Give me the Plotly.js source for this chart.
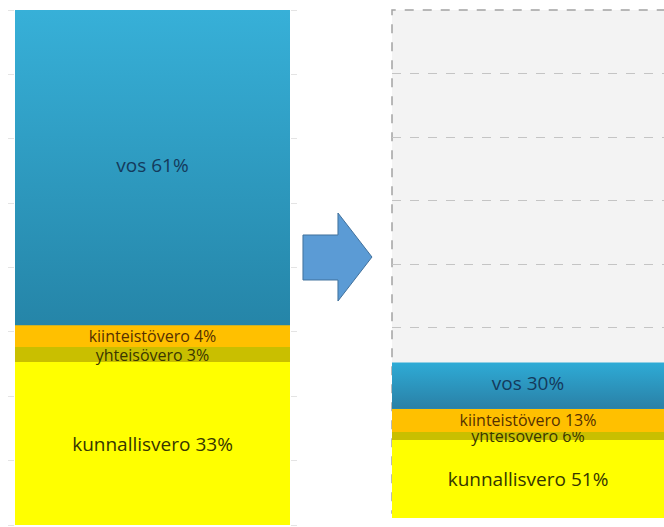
<!DOCTYPE html>
<html>
<head>
<meta charset="utf-8">
<script src="https://cdn.plot.ly/plotly-3.0.1.min.js"></script>
<style>
  html, body { margin: 0; padding: 0; background: #ffffff; }
  #chart { width: 664px; height: 527px; }
</style>
</head>
<body>
<div id="chart"></div>
<script>
// ---- Data ----
// Stacking order, bottom to top
const seriesNames = ['kunnallisvero', 'yhteisövero', 'kiinteistövero', 'vos'];
// Before: shares of the original total (bar fills the whole height)
const beforeValues = [31.6, 2.9, 4.3, 61.2];
const beforeLabels = ['kunnallisvero 33%', 'yhteisövero 3%', 'kiinteistövero 4%', 'vos 61%'];
// After: heights relative to the former total (dashed box = 100)
const afterValues = [15.4, 1.5, 4.6, 9.1];
const afterLabels = ['kunnallisvero 51%', 'yhteisövero 6%', 'kiinteistövero 13%', 'vos 30%'];
const formerTotal = 100;
const gridStep = 12.5;

// ---- Styles ----
const segColors = ['#ffff00', '#c9bf00', '#ffc000', '#2d9bc4'];
const textColors = ['#363600', '#3a3600', '#553000', '#143a5c'];
const textSizes = [19, 16, 16, 19];
const fontFamily = '"Open Sans", Lato, sans-serif';
const blueGrad = {
  before: [[0, '#2585a8'], [1, '#37b0d8']],
  after:  [[0, '#2a80a6'], [1, '#2eabd6']]
};

const W = 664, H = 527;
const px = v => v / W;
const py = v => 1 - v / H;

function sum(a) { return a.reduce((s, v) => s + v, 0); }

const traces = [];
function addPanel(values, labels, xa, ya, grad) {
  let base = 0;
  values.forEach((v, i) => {
    const isVos = (i === values.length - 1);
    traces.push({
      type: 'bar', x: [0], y: [v], xaxis: xa, yaxis: ya,
      name: seriesNames[i],
      marker: { color: segColors[i], line: { width: 0 } },
      text: isVos ? [''] : [labels[i]],
      textposition: 'inside', insidetextanchor: 'middle',
      constraintext: 'none', textangle: 0,
      textfont: { family: fontFamily, size: textSizes[i], color: textColors[i] },
      width: 1, hoverinfo: 'skip'
    });
    if (isVos) {
      const y0 = base, y1 = base + v;
      traces.push({
        type: 'scatter', mode: 'lines', xaxis: xa, yaxis: ya,
        x: [-0.5, 0.5, 0.5, -0.5, -0.5],
        y: [y0, y0, y1, y1, y0],
        fill: 'toself', line: { width: 0 },
        fillgradient: { type: 'vertical', start: y0, stop: y1, colorscale: grad },
        hoverinfo: 'skip'
      });
      traces.push({
        type: 'scatter', mode: 'text', xaxis: xa, yaxis: ya,
        x: [0], y: [(y0 + y1) / 2], text: [labels[i]],
        textposition: 'middle center',
        textfont: { family: fontFamily, size: textSizes[i], color: textColors[i] },
        hoverinfo: 'skip'
      });
    }
    base += v;
  });
}
addPanel(beforeValues, beforeLabels, 'x', 'y', blueGrad.before);
addPanel(afterValues, afterLabels, 'x2', 'y2', blueGrad.after);

const arrowPts = [[303, 235], [338, 235], [338, 213], [372, 257], [338, 301], [338, 280], [303, 280]];
const arrowPath = 'M ' + arrowPts.map(p => px(p[0]).toFixed(4) + ',' + py(p[1]).toFixed(4)).join(' L ') + ' Z';

const layout = {
  width: W, height: H,
  margin: { l: 0, r: 0, t: 0, b: 0, pad: 0 },
  paper_bgcolor: '#ffffff',
  plot_bgcolor: '#f3f3f3',
  showlegend: false,
  barmode: 'stack', bargap: 0,
  xaxis: { domain: [px(15), px(290)], range: [-0.5, 0.5], visible: false, fixedrange: true },
  yaxis: {
    domain: [py(525), py(10)], range: [0, sum(beforeValues)],
    side: 'right', showticklabels: false, showgrid: false, zeroline: false,
    ticks: 'outside', ticklen: 6, tickcolor: '#e4e4e4', tickwidth: 1,
    mirror: 'ticks', tick0: 0, dtick: sum(beforeValues) * gridStep / 100
  },
  xaxis2: { domain: [px(392), 1], range: [-0.5, 0.5], visible: false, anchor: 'y2' },
  yaxis2: {
    domain: [py(518), py(10)], range: [0, formerTotal], anchor: 'x2',
    showticklabels: false, zeroline: false, showline: false,
    showgrid: true, griddash: 'dash', gridcolor: '#c4c4c4', gridwidth: 1,
    tick0: 0, dtick: gridStep
  },
  shapes: [
    {
      type: 'rect', xref: 'x2 domain', yref: 'y2 domain',
      x0: 0, x1: 1.2, y0: 0.01, y1: 1, layer: 'below',
      line: { color: '#a3a3a3', width: 1.5, dash: 'dash' }, fillcolor: 'rgba(0,0,0,0)'
    },
    {
      type: 'path', xref: 'paper', yref: 'paper', path: arrowPath,
      fillcolor: '#5b9bd5', line: { color: '#41719c', width: 1 }
    }
  ]
};

Plotly.newPlot('chart', traces, layout, { staticPlot: true, displayModeBar: false });
</script>
</body>
</html>
